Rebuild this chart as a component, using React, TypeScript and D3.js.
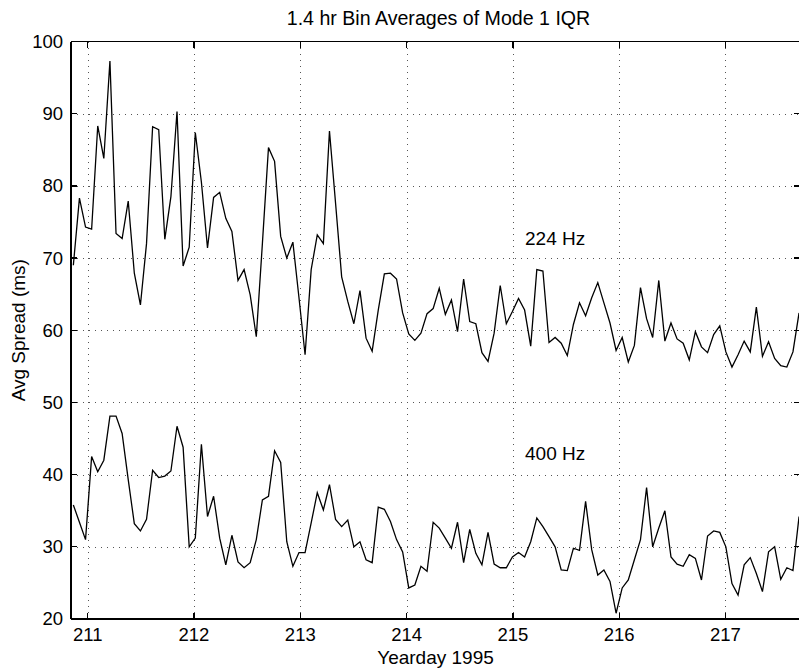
import React from 'react';
import * as d3 from 'd3';

const TITLE = '1.4 hr Bin Averages of Mode 1 IQR';
const X_LABEL = 'Yearday 1995';
const Y_LABEL = 'Avg Spread (ms)';
const X_TICKS = [211, 212, 213, 214, 215, 216, 217];
const Y_TICKS = [20, 30, 40, 50, 60, 70, 80, 90, 100];
const X_DOMAIN = [210.843, 217.701];
const Y_DOMAIN = [20, 100];
// bin centres: first bin time and bin spacing (days)
const BIN_START = 210.865;
const BIN_STEP = 0.05737;

const SERIES_224 = [
  69.0, 78.3, 74.3, 74.0, 88.3, 83.8, 97.3, 73.4, 72.7, 77.9,
  67.9, 63.5, 72.0, 88.2, 87.8, 72.6, 78.5, 90.3, 68.9, 71.5,
  87.4, 80.5, 71.4, 78.4, 79.1, 75.5, 73.7, 66.9, 68.4, 64.9,
  59.1, 72.0, 85.3, 83.4, 73.0, 70.0, 72.2, 64.5, 56.6, 68.4,
  73.2, 72.0, 87.6, 77.6, 67.4, 64.0, 60.9, 65.5, 58.9, 57.1,
  62.8, 67.8, 67.9, 67.1, 62.4, 59.5, 58.6, 59.6, 62.3, 63.0,
  65.8, 62.2, 64.2, 59.8, 67.1, 61.2, 60.9, 56.9, 55.7, 59.6,
  66.2, 60.9, 62.6, 64.4, 62.8, 57.8, 68.4, 68.2, 58.3, 59.0,
  58.2, 56.5, 60.8, 63.8, 62.0, 64.5, 66.6, 63.8, 61.0, 57.2,
  59.0, 55.6, 57.9, 65.9, 61.6, 59.0, 66.9, 58.5, 61.0, 58.8,
  58.2, 55.9, 59.8, 57.7, 56.9, 59.4, 60.6, 57.0, 54.9, 56.6,
  58.5, 57.0, 63.2, 56.4, 58.4, 56.1, 55.1, 54.9, 57.0, 62.4,
];

const SERIES_400 = [
  35.8, 33.4, 31.0, 42.5, 40.4, 42.0, 48.1, 48.1, 45.7, 39.3,
  33.2, 32.2, 33.8, 40.6, 39.6, 39.8, 40.5, 46.7, 43.8, 30.0,
  31.2, 44.2, 34.2, 37.0, 31.2, 27.5, 31.6, 27.9, 27.1, 27.8,
  31.0, 36.5, 37.0, 43.3, 41.7, 30.7, 27.3, 29.2, 29.2, 33.3,
  37.5, 35.1, 38.6, 33.8, 32.8, 33.7, 30.0, 30.7, 28.2, 27.8,
  35.5, 35.2, 33.5, 31.0, 29.3, 24.3, 24.7, 27.3, 26.6, 33.4,
  32.6, 31.2, 29.8, 33.4, 27.8, 32.4, 29.1, 27.5, 32.0, 27.6,
  27.1, 27.1, 28.6, 29.2, 28.6, 30.7, 34.0, 32.8, 31.4, 30.0,
  26.8, 26.7, 29.8, 29.5, 36.3, 29.6, 26.1, 26.8, 25.2, 20.8,
  24.3, 25.4, 28.2, 31.0, 38.2, 30.0, 32.6, 35.0, 28.6, 27.6,
  27.3, 28.9, 28.4, 25.4, 31.5, 32.2, 32.0, 30.0, 24.9, 23.3,
  27.5, 28.5, 26.3, 23.8, 29.3, 30.0, 25.5, 27.1, 26.7, 34.2,
];

const SERIES = [SERIES_224, SERIES_400];
const ANNOTATION_TEXT = ['224 Hz', '400 Hz'];
const ANNOTATION_X = [215.114, 215.114];
const ANNOTATION_Y = [71.8, 42.0];

const W = 799;
const H = 671;
const FONT = '"Liberation Sans", Arial, Helvetica, sans-serif';

export default function App() {
  const x = d3.scaleLinear().domain(X_DOMAIN).range([71, 800]);
  const y = d3.scaleLinear().domain(Y_DOMAIN).range([619, 41.5]);
  const left = x.range()[0];
  const right = x.range()[1];
  const top = y.range()[1];
  const bottom = y.range()[0];

  const line = d3
    .line<number>()
    .x((_, i) => x(BIN_START + i * BIN_STEP))
    .y((d) => y(d));

  const tickLen = 6;

  return (
    <svg
      width={W}
      height={H}
      style={{ position: 'absolute', left: 0, top: 0, background: '#fff' }}
      fontFamily={FONT}
    >
      <rect x={0} y={0} width={W} height={H} fill="#fff" />
      {/* grid */}
      <g stroke="#555" strokeWidth={1} strokeDasharray="1 5" shapeRendering="crispEdges">
        {X_TICKS.map((t) => (
          <line key={'gx' + t} x1={Math.round(x(t)) + 0.5} x2={Math.round(x(t)) + 0.5} y1={top} y2={bottom} />
        ))}
        {Y_TICKS.filter((t) => t > Y_DOMAIN[0] && t < Y_DOMAIN[1]).map((t) => (
          <line key={'gy' + t} x1={left} x2={right} y1={Math.round(y(t)) + 0.5} y2={Math.round(y(t)) + 0.5} />
        ))}
      </g>

      {/* data */}
      <g fill="none" stroke="#000" strokeWidth={1.3} strokeLinejoin="miter">
        {SERIES.map((s, k) => (
          <path key={'s' + k} d={line(s) || ''} />
        ))}
      </g>

      {/* frame and ticks */}
      <g stroke="#000" strokeWidth={1.3} shapeRendering="crispEdges">
        <line x1={left} x2={right} y1={top} y2={top} />
        <line x1={left} x2={right} y1={bottom} y2={bottom} />
        <line x1={left} x2={left} y1={top} y2={bottom} />
        <line x1={right - 0.5} x2={right - 0.5} y1={top} y2={bottom} />
        {X_TICKS.map((t) => (
          <g key={'tx' + t}>
            <line x1={x(t)} x2={x(t)} y1={bottom} y2={bottom - tickLen} />
            <line x1={x(t)} x2={x(t)} y1={top} y2={top + tickLen} />
          </g>
        ))}
        {Y_TICKS.map((t) => (
          <g key={'ty' + t}>
            <line x1={left} x2={left + tickLen} y1={y(t)} y2={y(t)} />
            <line x1={right} x2={right - tickLen} y1={y(t)} y2={y(t)} />
          </g>
        ))}
      </g>

      {/* tick labels */}
      <g fontSize={18.5} fill="#000">
        {X_TICKS.map((t) => (
          <text key={'lx' + t} x={x(t)} y={bottom + 22} textAnchor="middle">
            {t}
          </text>
        ))}
        {Y_TICKS.map((t) => (
          <text key={'ly' + t} x={left - 8} y={y(t)} dy="0.35em" textAnchor="end">
            {t}
          </text>
        ))}
      </g>

      {/* annotations */}
      <g fontSize={19} fill="#000">
        {ANNOTATION_TEXT.map((s, i) => (
          <text key={'a' + i} x={x(ANNOTATION_X[i])} y={y(ANNOTATION_Y[i])}>
            {s}
          </text>
        ))}
      </g>

      {/* titles */}
      <text x={(left + right) / 2 + 3} y={25} textAnchor="middle" fontSize={19.6} fill="#000">
        {TITLE}
      </text>
      <text x={(left + right) / 2} y={664} textAnchor="middle" fontSize={19} fill="#000">
        {X_LABEL}
      </text>
      <text
        transform={`translate(25, ${(top + bottom) / 2}) rotate(-90)`}
        textAnchor="middle"
        fontSize={19}
        fill="#000"
      >
        {Y_LABEL}
      </text>
    </svg>
  );
}
